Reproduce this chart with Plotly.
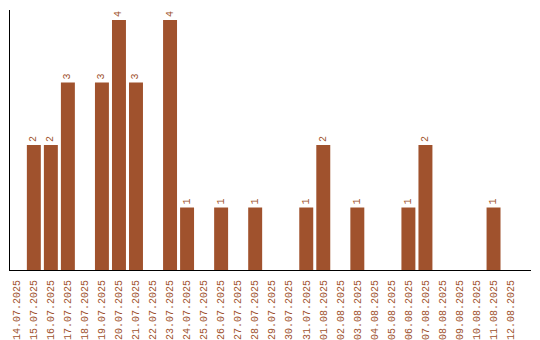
import plotly.graph_objects as go

dates = ["14.07.2025", "15.07.2025", "16.07.2025", "17.07.2025", "18.07.2025",
         "19.07.2025", "20.07.2025", "21.07.2025", "22.07.2025", "23.07.2025",
         "24.07.2025", "25.07.2025", "26.07.2025", "27.07.2025", "28.07.2025",
         "29.07.2025", "30.07.2025", "31.07.2025", "01.08.2025", "02.08.2025",
         "03.08.2025", "04.08.2025", "05.08.2025", "06.08.2025", "07.08.2025",
         "08.08.2025", "09.08.2025", "10.08.2025", "11.08.2025", "12.08.2025"]
counts = [0, 2, 2, 3, 0, 3, 4, 3, 0, 4, 1, 0, 1, 0, 1, 0, 0, 1, 2, 0,
          1, 0, 0, 1, 2, 0, 0, 0, 1, 0]

color = "#A0522D"
labels = [str(v) if v else "" for v in counts]

fig = go.Figure(go.Bar(
    x=dates, y=counts, marker_color=color, marker_line_width=0,
    text=labels, textposition="outside", textangle=-90,
    textfont=dict(family="Liberation Mono", size=10, color=color),
    cliponaxis=False,
))
fig.update_layout(
    width=540, height=340,
    margin=dict(l=10, r=9, t=10, b=70, autoexpand=False),
    paper_bgcolor="white", plot_bgcolor="white",
    bargap=0.18, showlegend=False,
    xaxis=dict(type="category", range=[-0.4, 30.2], showgrid=False,
               showline=True, linecolor="black", linewidth=1,
               tickangle=-90, ticks="", automargin=False,
               ticklabelstandoff=5,
               tickfont=dict(family="Liberation Mono", size=10, color=color)),
    yaxis=dict(range=[0, 4.16], showgrid=False, zeroline=False,
               showline=True, linecolor="black", linewidth=1,
               showticklabels=False, ticks="", automargin=False),
)
fig.write_html("out.html")
